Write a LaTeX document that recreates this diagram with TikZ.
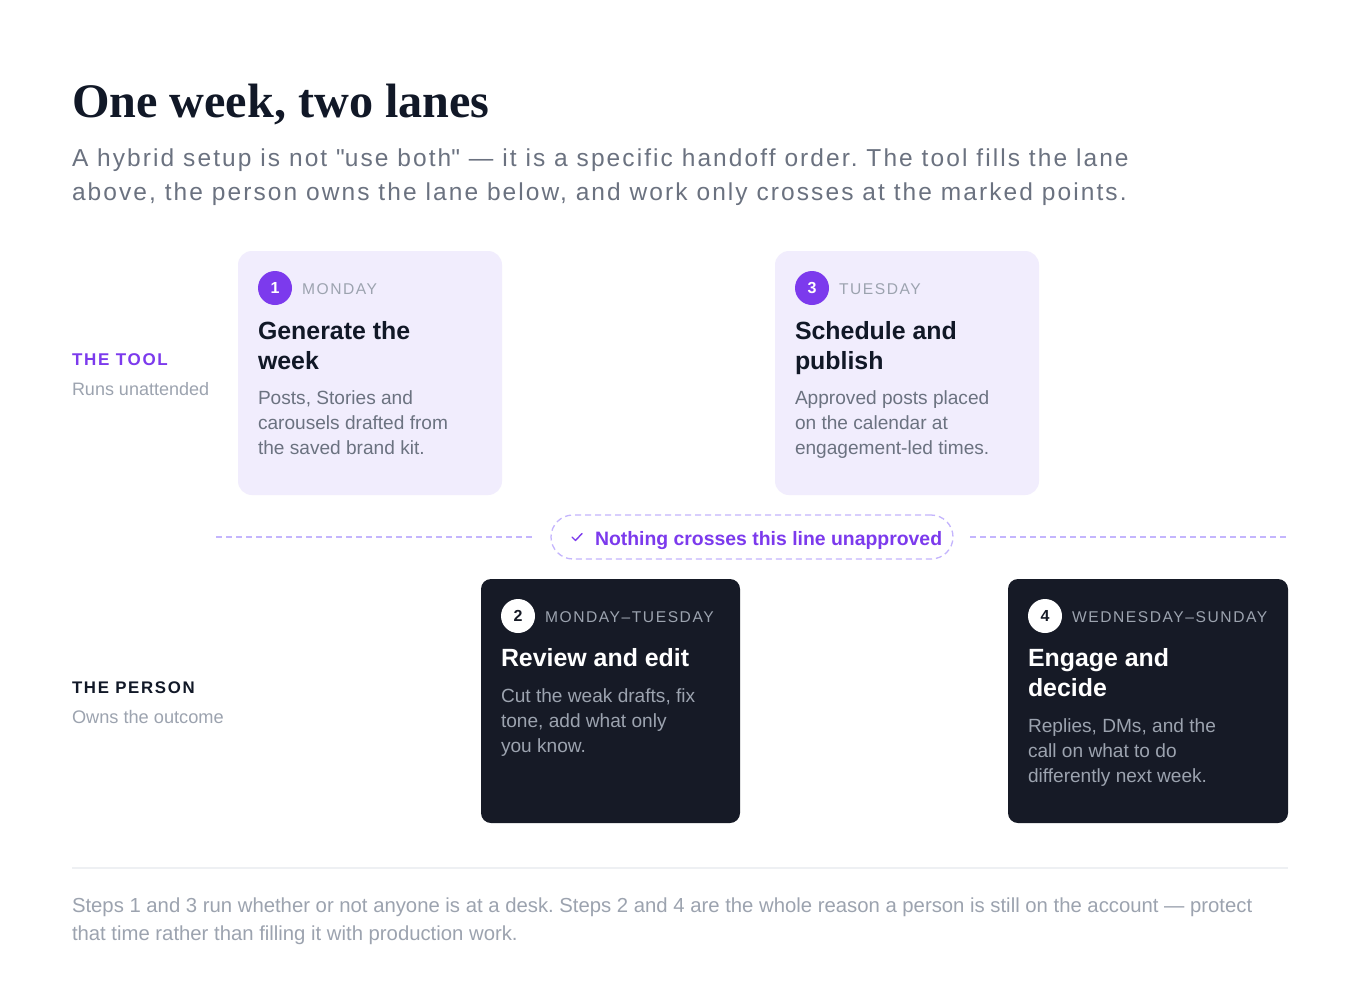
\documentclass[tikz,border=0pt]{standalone}
\usepackage{fontspec}
\setmainfont{Liberation Sans}
\newfontfamily\serifbold{Liberation Serif}[BoldFont={* Bold}]
\newfontfamily\capsfont{Liberation Sans}[LetterSpace=10]
\newfontfamily\capsbold{Liberation Sans}[LetterSpace=10]
\newfontfamily\widefont{Liberation Sans}[LetterSpace=8.5]
\usetikzlibrary{positioning}
\frenchspacing
\definecolor{ink}{HTML}{111827}
\definecolor{slate}{HTML}{6B7280}
\definecolor{mute}{HTML}{9CA3AF}
\definecolor{violet}{HTML}{7C3AED}
\definecolor{lav}{HTML}{F1EDFD}
\definecolor{lavline}{HTML}{C4B5FD}
\definecolor{night}{HTML}{161A26}
\definecolor{rule}{HTML}{EEF0F3}
\tikzset{
  txt/.style={anchor=base west, inner sep=0pt, outer sep=0pt},
  lightcard/.style={rectangle, rounded corners=14pt, fill=lav, draw=none, minimum width=264pt, minimum height=244pt, inner sep=0pt},
  darkcard/.style={rectangle, rounded corners=10pt, fill=night, draw=none, minimum height=244pt, inner sep=0pt},
  numdot/.style={circle, minimum size=34pt, inner sep=0pt, font=\fontsize{16}{16}\selectfont\bfseries},
  daylbl/.style={txt, font=\fontsize{15.6}{15.6}\capsfont},
  cardtitle/.style={txt, font=\fontsize{24.9}{24.9}\selectfont\bfseries},
  cardbody/.style={txt, font=\fontsize{19.1}{19.1}\selectfont},
  lanedash/.style={draw=lavline, line width=1.3pt, dash pattern=on 6pt off 4pt},
}
\begin{document}
\begin{tikzpicture}[x=1pt,y=-1pt]
\path[use as bounding box, fill=white] (0,0) rectangle (1360,1001);

% heading
\node[txt, font=\fontsize{48.2}{48.2}\serifbold\bfseries, text=ink] (title) at (72,117) {One week, two lanes};
\node[txt, font=\fontsize{24.5}{24.5}\widefont, text=slate] (sub1) at (72,166) {A hybrid setup is not \textquotedbl use both\textquotedbl{} — it is a specific handoff order. The tool fills the lane};
\node[txt, font=\fontsize{24.5}{24.5}\widefont, text=slate] (sub2) at (72,200) {above, the person owns the lane below, and work only crosses at the marked points.};

% lane labels
\node[txt, font=\fontsize{17}{17}\capsbold\bfseries, text=violet] (tool) at (72,365) {THE TOOL};
\node[txt, font=\fontsize{18}{18}\selectfont, text=mute] (toolsub) at (72,395) {Runs unattended};
\node[txt, font=\fontsize{16.8}{16.8}\capsbold\bfseries, text=ink] (person) at (72,693) {THE PERSON};
\node[txt, font=\fontsize{18.2}{18.2}\selectfont, text=mute] (personsub) at (72,723) {Owns the outcome};

% card 1
\node[lightcard] (c1) at (370,373) {};
\node[numdot, fill=violet, text=white] (n1) at (275,288) {1};
\node[daylbl, text=mute] (d1) at (302,294) {MONDAY};
\node[cardtitle, text=ink] (t1a) at (258,339) {Generate the};
\node[cardtitle, text=ink] (t1b) at (258,369) {week};
\node[cardbody, text=slate] (b1a) at (258,404) {Posts, Stories and};
\node[cardbody, text=slate] (b1b) at (258,429) {carousels drafted from};
\node[cardbody, text=slate] (b1c) at (258,454) {the saved brand kit.};

% card 3
\node[lightcard] (c3) at (907,373) {};
\node[numdot, fill=violet, text=white] (n3) at (812,288) {3};
\node[daylbl, text=mute] (d3) at (839,294) {TUESDAY};
\node[cardtitle, text=ink] (t3a) at (795,339) {Schedule and};
\node[cardtitle, text=ink] (t3b) at (795,369) {publish};
\node[cardbody, text=slate] (b3a) at (795,404) {Approved posts placed};
\node[cardbody, text=slate] (b3b) at (795,429) {on the calendar at};
\node[cardbody, text=slate] (b3c) at (795,454) {engagement-led times.};

% crossing line
\node[rectangle, rounded corners=22pt, draw=lavline, line width=1.3pt, dash pattern=on 6pt off 4pt, minimum width=402pt, minimum height=44pt, inner sep=0pt] (pill) at (752,537) {};
\node[txt, font=\fontsize{19.4}{19.4}\selectfont\bfseries, text=violet] (pilltext) at (595,545) {Nothing crosses this line unapproved};
\coordinate (chk) at (577,537);
\draw[violet, line width=1.4pt, line cap=round, line join=round] ([shift={(-5,0)}]chk) -- ([shift={(-1.5,3.5)}]chk) -- ([shift={(5,-3.5)}]chk);
\coordinate (dlA) at (216,537);
\coordinate (dlB) at (534,537);
\coordinate (dlC) at (970,537);
\coordinate (dlD) at (1288,537);
\draw[lanedash] (dlA) -- (dlB);
\draw[lanedash] (dlC) -- (dlD);

% card 2
\node[darkcard, minimum width=259pt] (c2) at (610.5,701) {};
\node[numdot, fill=white, text=night] (n2) at (518,616) {2};
\node[daylbl, text=mute] (d2) at (545,622) {MONDAY–TUESDAY};
\node[cardtitle, text=white] (t2a) at (501,666) {Review and edit};
\node[cardbody, text=mute] (b2a) at (501,702) {Cut the weak drafts, fix};
\node[cardbody, text=mute] (b2b) at (501,727) {tone, add what only};
\node[cardbody, text=mute] (b2c) at (501,752) {you know.};

% card 4
\node[darkcard, minimum width=280pt] (c4) at (1148,701) {};
\node[numdot, fill=white, text=night] (n4) at (1045,616) {4};
\node[daylbl, text=mute] (d4) at (1072,622) {WEDNESDAY–SUNDAY};
\node[cardtitle, text=white] (t4a) at (1028,666) {Engage and};
\node[cardtitle, text=white] (t4b) at (1028,696) {decide};
\node[cardbody, text=mute] (b4a) at (1028,732) {Replies, DMs, and the};
\node[cardbody, text=mute] (b4b) at (1028,757) {call on what to do};
\node[cardbody, text=mute] (b4c) at (1028,782) {differently next week.};

% footer
\coordinate (rl) at (72,868);
\coordinate (rr) at (1288,868);
\draw[rule, line width=1.2pt] (rl) -- (rr);
\node[txt, font=\fontsize{20.3}{20.3}\selectfont, text=mute] (f1) at (72,912) {Steps 1 and 3 run whether or not anyone is at a desk. Steps 2 and 4 are the whole reason a person is still on the account — protect};
\node[txt, font=\fontsize{20.3}{20.3}\selectfont, text=mute] (f2) at (72,940) {that time rather than filling it with production work.};
\end{tikzpicture}
\end{document}
